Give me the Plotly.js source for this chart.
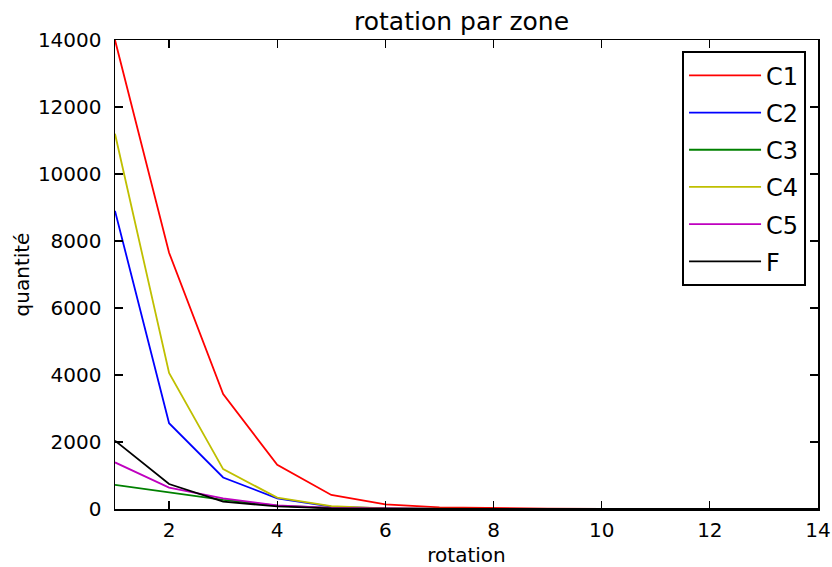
<!DOCTYPE html>
<html>
<head>
<meta charset="utf-8">
<script src="https://cdn.plot.ly/plotly-3.0.1.min.js"></script>
<style>html,body{margin:0;padding:0;background:#fff;}#chart{width:832px;height:567px;}</style>
</head>
<body>
<div id="chart"></div>
<script>
const rotation = [1, 2, 3, 4, 5, 6, 7, 8, 9, 10, 11, 12, 13, 14];
const C1 = [14000, 7650, 3430, 1320, 420, 140, 50, 18, 7, 3, 1, 0, 0, 0];
const C2 = [8900, 2560, 940, 320, 70, 15, 4, 1, 0, 0, 0, 0, 0, 0];
const C3 = [720, 500, 270, 100, 30, 8, 2, 0, 0, 0, 0, 0, 0, 0];
const C4 = [11200, 4060, 1190, 340, 85, 20, 5, 1, 0, 0, 0, 0, 0, 0];
const C5 = [1390, 640, 320, 110, 30, 8, 2, 0, 0, 0, 0, 0, 0, 0];
const F = [2040, 745, 220, 80, 20, 5, 1, 0, 0, 0, 0, 0, 0, 0];
const names = ['C1', 'C2', 'C3', 'C4', 'C5', 'F'];
const series = [C1, C2, C3, C4, C5, F];
const colors = ['#ff0000', '#0000ff', '#008000', '#bfbf00', '#bf00bf', '#000000'];

const traces = series.map((s, i) => ({
  x: rotation, y: s, name: names[i], legendgroup: names[i], type: 'scatter', mode: 'lines',
  line: {color: colors[i], width: 1.8}
}));

const axisCommon = {
  showline: true, linecolor: '#000', linewidth: 1.5, mirror: 'ticks',
  ticks: 'inside', ticklen: 8, tickwidth: 1.2, tickcolor: '#000',
  showgrid: false, zeroline: false, tickformat: 'd',
  tickfont: {family: 'DejaVu Sans', size: 20, color: '#000'}
};

const layout = {
  width: 832, height: 567,
  margin: {l: 115, r: 14, t: 40, b: 58},
  paper_bgcolor: '#fff', plot_bgcolor: '#fff',
  font: {family: 'DejaVu Sans', color: '#000'},
  title: {text: 'rotation par zone', font: {family: 'DejaVu Sans', size: 25, color: '#000'},
          xref: 'paper', x: 0.493, xanchor: 'center', yref: 'container', y: 0.963, yanchor: 'middle'},
  xaxis: Object.assign({}, axisCommon, {
    range: [1, 14], tick0: 0, dtick: 2, ticklabelstandoff: 2,
    title: {text: 'rotation', font: {family: 'DejaVu Sans', size: 20, color: '#000'}, standoff: 12}
  }),
  yaxis: Object.assign({}, axisCommon, {
    range: [0, 14000], tick0: 0, dtick: 2000, ticklabelstandoff: 8,
    title: {text: 'quantité', font: {family: 'DejaVu Sans', size: 20, color: '#000'}, standoff: 3}
  }),
  legend: {
    x: 0.983, xanchor: 'right', y: 0.976, yanchor: 'top',
    bgcolor: '#fff', bordercolor: '#000', borderwidth: 2,
    font: {family: 'DejaVu Sans', size: 24, color: '#000'},
    itemwidth: 72, tracegroupgap: 3
  },
  showlegend: true
};

Plotly.newPlot('chart', traces, layout, {displayModeBar: false, staticPlot: true});
</script>
</body>
</html>
